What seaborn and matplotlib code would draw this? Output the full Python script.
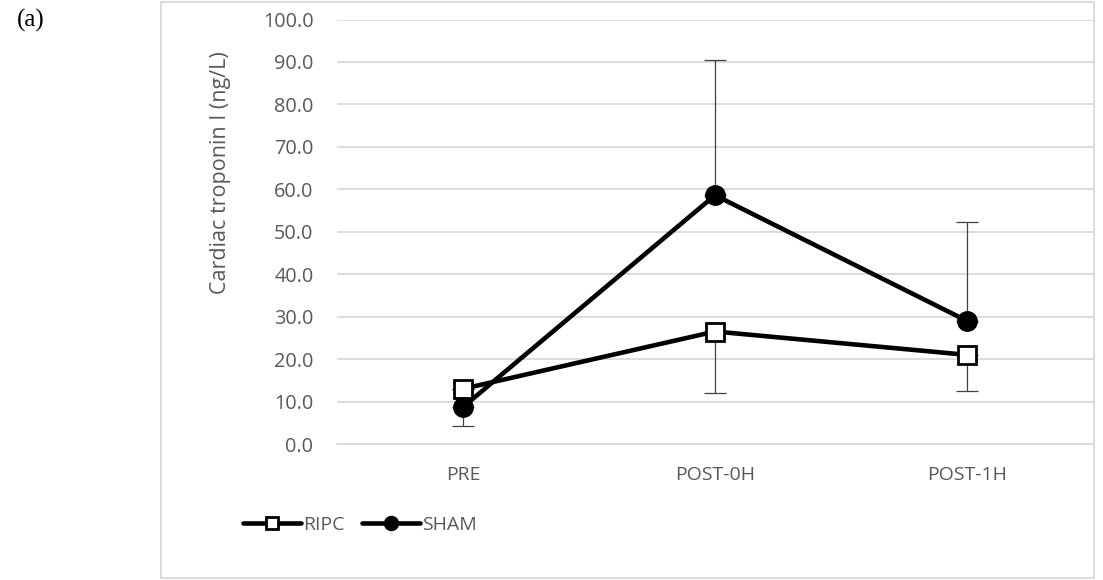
import matplotlib
matplotlib.use("Agg")
import matplotlib.pyplot as plt
import seaborn as sns
import pandas as pd
import numpy as np
from matplotlib.patches import Rectangle

# ---- data ----
categories = ["PRE", "POST-0H", "POST-1H"]
ripc_values = [13.0, 26.5, 21.0]
sham_values = [8.7, 58.6, 29.0]
ripc_err_lower = [0.0, 14.5, 8.5]
ripc_err_upper = [0.0, 0.0, 0.0]
sham_err_lower = [4.4, 0.0, 0.0]
sham_err_upper = [0.0, 31.8, 23.2]
y_ticks = [0, 10, 20, 30, 40, 50, 60, 70, 80, 90, 100]
y_label = "Cardiac troponin I (ng/L)"

sns.set_theme(style="white")
plt.rcParams["font.family"] = ["Open Sans", "DejaVu Sans"]

W, H = 1103, 580
fig = plt.figure(figsize=(W / 100, H / 100), dpi=100)
ax = fig.add_axes([337 / W, 1 - 444 / H, 756 / W, 424.5 / H])

df = pd.DataFrame({
    "time": categories * 2,
    "value": ripc_values + sham_values,
    "group": ["RIPC"] * 3 + ["SHAM"] * 3,
})

xpos = np.arange(len(categories))
ebc = "#404040"
ax.errorbar(xpos, ripc_values, yerr=[ripc_err_lower, ripc_err_upper], fmt="none",
            ecolor=ebc, elinewidth=0.9, capsize=8, capthick=0.9, zorder=2)
ax.errorbar(xpos, sham_values, yerr=[sham_err_lower, sham_err_upper], fmt="none",
            ecolor=ebc, elinewidth=0.9, capsize=8, capthick=0.9, zorder=2)

sns.lineplot(data=df[df.group == "RIPC"], x="time", y="value", ax=ax,
             color="black", linewidth=3.3, marker="s", markersize=12.5,
             markerfacecolor="white", markeredgecolor="black", markeredgewidth=2,
             label="RIPC", zorder=4, sort=False)
sns.lineplot(data=df[df.group == "SHAM"], x="time", y="value", ax=ax,
             color="black", linewidth=3.3, marker="o", markersize=14,
             markerfacecolor="black", markeredgecolor="black", markeredgewidth=1,
             label="SHAM", zorder=5, sort=False)

ax.set_xlim(-0.5, 2.5)
ax.set_ylim(0, 100)
ax.set_yticks(y_ticks)
ax.set_yticklabels([f"{v:.1f}" for v in y_ticks])
ax.set_xticks(xpos)
ax.set_xticklabels(categories)
ax.set_xlabel("")
ax.set_ylabel(y_label, fontsize=15.5, color="#595959")
ax.yaxis.set_label_coords((231 - 337) / 756, (444 - 173) / 424.5)
ax.tick_params(axis="y", length=0, pad=17, labelsize=14.3, labelcolor="#595959")
ax.tick_params(axis="x", length=0, pad=16, labelsize=14, labelcolor="#595959")
ax.yaxis.grid(True, color="#d9d9d9", linewidth=1.3)
ax.xaxis.grid(False)
ax.set_axisbelow(True)
for s in ["top", "right", "left"]:
    ax.spines[s].set_visible(False)
ax.spines["bottom"].set_color("#d9d9d9")
ax.spines["bottom"].set_linewidth(1.3)

handles, labels = ax.get_legend_handles_labels()
ax.get_legend().remove()
fig.legend(handles, labels, loc="center", bbox_to_anchor=(360 / W, 1 - 525 / H),
           ncol=2, frameon=False, handlelength=3.0, handletextpad=0.1,
           columnspacing=0.9, fontsize=14, labelcolor="#595959", markerscale=0.72)

fig.patches.append(Rectangle((161 / W, 2 / H), (1094 - 161) / W, (578 - 2) / H,
                             transform=fig.transFigure, fill=False,
                             edgecolor="#d9d9d9", linewidth=1.3))
fig.text(31 / W, 1 - 20 / H, "(a)", ha="center", va="center", fontsize=18,
         family=["Liberation Serif", "DejaVu Serif"], color="black")

fig.savefig("out.png", dpi=100)
